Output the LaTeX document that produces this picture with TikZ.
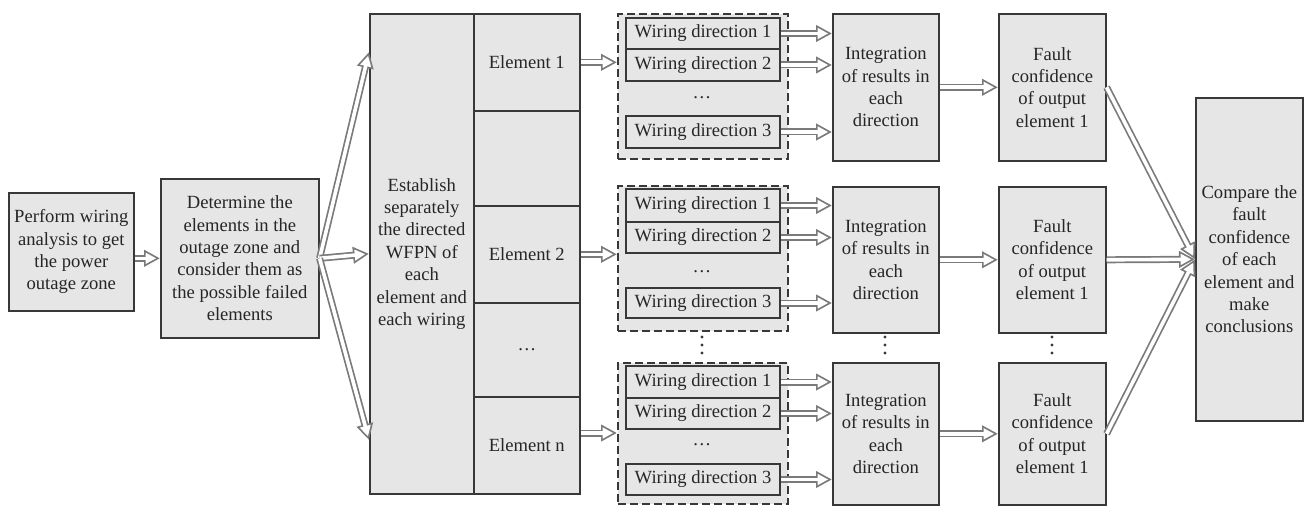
\documentclass[tikz,border=0pt]{standalone}
\usepackage{fontspec}
\setmainfont{Liberation Serif}
\usetikzlibrary{arrows.meta,calc}
\definecolor{boxfill}{HTML}{E6E6E6}
\definecolor{boxline}{HTML}{383838}
\definecolor{arrline}{HTML}{7A7A7A}
\definecolor{txt}{HTML}{262626}
\newcommand{\harrow}[2]{\draw[arrout] #1 -- #2; \draw[arrin] #1 -- #2;}
\begin{document}
\begin{tikzpicture}[x=1bp,y=-1bp,
 box/.style={draw=boxline, fill=boxfill, line width=1.6bp, anchor=north west, inner sep=0pt, align=center, text=txt, font=\fontsize{18.6bp}{22.4bp}\selectfont},
 dbox/.style={draw=boxline, fill=boxfill, line width=1.8bp, dash pattern=on 8bp off 4bp, anchor=north west, inner sep=0pt},
 wd/.style={box, line width=2bp, minimum width=154bp},
 dotsnode/.style={text=txt, font=\fontsize{18.6bp}{22bp}\selectfont, inner sep=0pt},
 vdot/.style={fill=boxline, draw=none},
 arrout/.style={draw=arrline, line width=7bp, -{Triangle[length=16bp,width=16bp]}},
 arrin/.style={draw=white, line width=3.6bp, shorten >=3.8bp, -{Triangle[length=10.5bp,width=10.5bp]}},
]
\useasboundingbox (0,0) rectangle (1306,506);

\node[box, minimum width=125bp, minimum height=118bp] (A) at (8,192) {Perform wiring\\analysis to get\\the power\\outage zone};
\node[box, minimum width=158bp, minimum height=159bp] (B) at (160,178) {Determine the\\elements in the\\outage zone and\\consider them as\\the possible failed\\elements};
\node[box, minimum width=104bp, minimum height=480bp] (E) at (369,13) {Establish\\separately\\the directed\\WFPN of\\each\\element and\\each wiring};

\node[box, minimum width=106bp, minimum height=97bp] (E1) at (473,13) {Element 1};
\node[box, minimum width=106bp, minimum height=95bp] (E2) at (473,110) {};
\node[box, minimum width=106bp, minimum height=97bp] (E3) at (473,205) {Element 2};
\node[box, minimum width=106bp, minimum height=94bp] (E4) at (473,302) {\dots};
\node[box, minimum width=106bp, minimum height=97bp] (E5) at (473,396) {Element n};

\node[dbox, minimum width=170bp, minimum height=145bp] (D1) at (617,13) {};
\node[dbox, minimum width=170bp, minimum height=145bp] (D2) at (617,185) {};
\node[dbox, minimum width=170bp, minimum height=141bp] (D3) at (617,362) {};

\node[wd, minimum height=31bp] (W11) at (625,17) {Wiring direction 1};
\node[wd, minimum height=32bp] (W12) at (625,48) {Wiring direction 2};
\node[wd, minimum height=32bp] (W13) at (625,115) {Wiring direction 3};
\node[dotsnode] (T1) at (702,98) {\dots};
\node[wd, minimum height=33bp] (W21) at (625,188) {Wiring direction 1};
\node[wd, minimum height=31bp] (W22) at (625,221) {Wiring direction 2};
\node[wd, minimum height=30bp] (W23) at (625,287) {Wiring direction 3};
\node[dotsnode] (T2) at (702,272) {\dots};
\node[wd, minimum height=32bp] (W31) at (625,365) {Wiring direction 1};
\node[wd, minimum height=31bp] (W32) at (625,397) {Wiring direction 2};
\node[wd, minimum height=31bp] (W33) at (625,463) {Wiring direction 3};
\node[dotsnode] (T3) at (702,445) {\dots};

\node[box, minimum width=106bp, minimum height=147bp] (I1) at (832,13) {Integration\\of results in\\each\\direction};
\node[box, minimum width=106bp, minimum height=146bp] (I2) at (832,186) {Integration\\of results in\\each\\direction};
\node[box, minimum width=106bp, minimum height=142bp] (I3) at (832,362) {Integration\\of results in\\each\\direction};

\node[box, minimum width=107bp, minimum height=147bp] (F1) at (998,13) {Fault\\confidence\\of output\\element 1};
\node[box, minimum width=107bp, minimum height=146bp] (F2) at (998,186) {Fault\\confidence\\of output\\element 1};
\node[box, minimum width=107bp, minimum height=142bp] (F3) at (998,362) {Fault\\confidence\\of output\\element 1};

\node[box, minimum width=107bp, minimum height=323bp] (C) at (1195,97) {Compare the\\fault\\confidence\\of each\\element and\\make\\conclusions};

% vertical dots
\foreach \xx in {702,885,1052}{
  \foreach \yy in {337,345,353}{
    \fill[vdot] (\xx,\yy) circle (1.7bp);
  }
}

% arrows
\harrow{(A.east |- B.west)}{(B.west)}
\harrow{(B.east)}{(E.west |- 0,52)}
\harrow{(B.east)}{(E.west)}
\harrow{(B.east)}{(E.west |- 0,440)}
\harrow{(E1.east)}{(D1.west |- E1.east)}
\harrow{(E3.east)}{(D2.west |- E3.east)}
\coordinate (en) at (E5.east |- 0,433);
\harrow{(en)}{(D3.west |- en)}
\foreach \i in {1,2,3}{
  \foreach \j in {1,2,3}{
    \harrow{(W\i\j.east)}{(I\i.west |- W\i\j.east)}
  }
  \harrow{(I\i.east)}{(F\i.west)}
  \harrow{(F\i.east)}{(C.west)}
}
\end{tikzpicture}
\end{document}
